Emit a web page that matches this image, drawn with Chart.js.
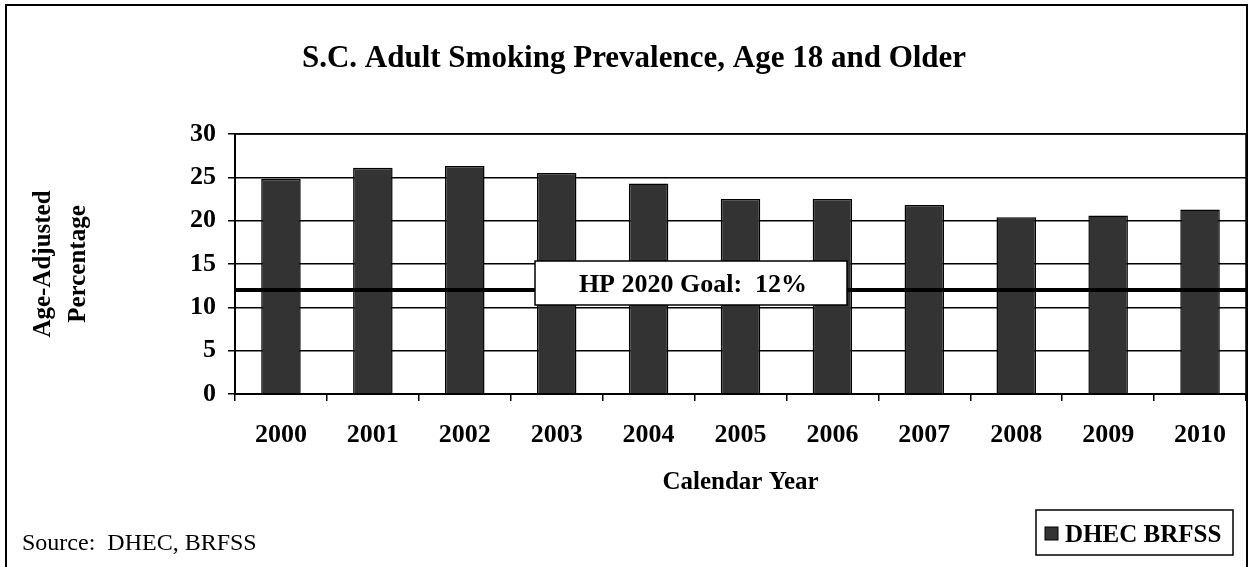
<!DOCTYPE html>
<html>
<head>
<meta charset="utf-8">
<script src="https://cdn.jsdelivr.net/npm/chart.js@4"></script>
<style>
  html, body { margin: 0; padding: 0; background: #ffffff; }
  #wrap { width: 1255px; height: 567px; position: relative; }
</style>
</head>
<body>
<div id="wrap"><canvas id="c" width="1255" height="567"></canvas></div>
<script>
// Survey years and age-adjusted adult smoking prevalence (%)
const years = ['2000', '2001', '2002', '2003', '2004', '2005', '2006', '2007', '2008', '2009', '2010'];
const prevalence = [24.8, 26.1, 26.3, 25.5, 24.3, 22.5, 22.5, 21.8, 20.4, 20.6, 21.3];
const yTickValues = [0, 5, 10, 15, 20, 25, 30];
const goalValue = 12;

const seriesName = 'DHEC BRFSS';
const titleText = 'S.C. Adult Smoking Prevalence, Age 18 and Older';
const yTitleLines = ['Age-Adjusted', 'Percentage'];
const xTitleText = 'Calendar Year';
const sourceText = 'Source:  DHEC, BRFSS';
const goalText = 'HP 2020 Goal:  ' + goalValue + '%';

const SERIF = "'Times New Roman', 'Liberation Serif', serif";
const BAR_FILL = '#333333';

// Frame, titles, goal line, callout and legend drawn around the bar chart
const decorations = {
  id: 'decorations',
  beforeDraw(chart) {
    const ctx = chart.ctx;
    ctx.save();
    ctx.fillStyle = '#ffffff';
    ctx.fillRect(0, 0, chart.width, chart.height);
    ctx.restore();
  },
  afterDatasetsDraw(chart) {
    const ctx = chart.ctx;
    const area = chart.chartArea;
    const y = chart.scales.y;
    ctx.save();

    // plot area border
    ctx.strokeStyle = '#000';
    ctx.lineWidth = 1.5;
    ctx.strokeRect(area.left, area.top, area.right - area.left, area.bottom - area.top);

    // goal reference line
    const gy = y.getPixelForValue(goalValue);
    ctx.beginPath();
    ctx.lineWidth = 4;
    ctx.moveTo(area.left, gy);
    ctx.lineTo(area.right, gy);
    ctx.stroke();

    // goal callout box
    const bx = 535, bw = 312, bh = 44;
    const by = gy - 29;
    ctx.fillStyle = '#fff';
    ctx.fillRect(bx, by, bw, bh);
    ctx.lineWidth = 1.5;
    ctx.strokeRect(bx, by, bw, bh);
    ctx.fillStyle = '#000';
    ctx.font = 'bold 26px ' + SERIF;
    ctx.textAlign = 'center';
    ctx.textBaseline = 'alphabetic';
    ctx.fillText(goalText, bx + bw / 2 + 2, by + bh / 2 + 9);
    ctx.restore();
  },
  afterDraw(chart) {
    const ctx = chart.ctx;
    const area = chart.chartArea;
    ctx.save();
    ctx.fillStyle = '#000';
    ctx.strokeStyle = '#000';

    // outer frame
    ctx.lineWidth = 2;
    ctx.strokeRect(6, 5, 1241, 600);

    // chart title
    ctx.font = 'bold 31px ' + SERIF;
    ctx.textAlign = 'center';
    ctx.textBaseline = 'alphabetic';
    ctx.fillText(titleText, 634, 67);

    // x-axis title
    ctx.font = 'bold 25px ' + SERIF;
    ctx.fillText(xTitleText, (area.left + area.right) / 2, 489);

    // y-axis title, two rotated lines
    ctx.save();
    ctx.translate(0, (area.top + area.bottom) / 2);
    ctx.rotate(-Math.PI / 2);
    ctx.font = 'bold 25px ' + SERIF;
    ctx.fillText(yTitleLines[0], 0, 50);
    ctx.fillText(yTitleLines[1], 0, 85);
    ctx.restore();

    // source note
    ctx.font = '24px ' + SERIF;
    ctx.textAlign = 'left';
    ctx.fillText(sourceText, 22, 550);

    // legend
    const lx = 1036, ly = 510, lw = 197, lh = 45;
    ctx.fillStyle = '#fff';
    ctx.fillRect(lx, ly, lw, lh);
    ctx.lineWidth = 1.5;
    ctx.strokeRect(lx, ly, lw, lh);
    ctx.fillStyle = BAR_FILL;
    ctx.fillRect(1045, 527, 13, 13);
    ctx.lineWidth = 1;
    ctx.strokeRect(1045, 527, 13, 13);
    ctx.fillStyle = '#000';
    ctx.font = 'bold 25px ' + SERIF;
    ctx.fillText(chart.data.datasets[0].label, 1065, 542);
    ctx.restore();
  }
};

Chart.defaults.font.family = SERIF;
Chart.defaults.color = '#000';

new Chart(document.getElementById('c'), {
  type: 'bar',
  data: {
    labels: years,
    datasets: [{
      label: seriesName,
      data: prevalence,
      backgroundColor: BAR_FILL,
      borderColor: '#000',
      borderWidth: 1.5,
      categoryPercentage: 1.0,
      barPercentage: 0.43
    }]
  },
  options: {
    responsive: false,
    animation: false,
    devicePixelRatio: 1,
    layout: { padding: { top: 134, left: 0, right: 9, bottom: 0 } },
    plugins: {
      legend: { display: false },
      title: { display: false },
      tooltip: { enabled: false }
    },
    scales: {
      x: {
        offset: true,
        grid: {
          display: true,
          offset: true,
          drawOnChartArea: false,
          drawTicks: true,
          tickLength: 7,
          color: '#000',
          lineWidth: 1.5
        },
        border: { display: true, color: '#000', width: 2 },
        ticks: {
          font: { size: 26, weight: 'bold' },
          color: '#000',
          padding: 19,
          maxRotation: 0
        },
        afterFit(scale) { scale.height = 173; }
      },
      y: {
        min: 0,
        max: 30,
        afterBuildTicks(scale) { scale.ticks = yTickValues.map(v => ({ value: v })); },
        grid: {
          color: '#000',
          lineWidth: 1.5,
          drawTicks: true,
          tickLength: 7
        },
        border: { display: true, color: '#000', width: 2 },
        ticks: {
          font: { size: 26, weight: 'bold' },
          color: '#000',
          padding: 12
        },
        afterFit(scale) { scale.width = 235; }
      }
    }
  },
  plugins: [decorations]
});
</script>
</body>
</html>
